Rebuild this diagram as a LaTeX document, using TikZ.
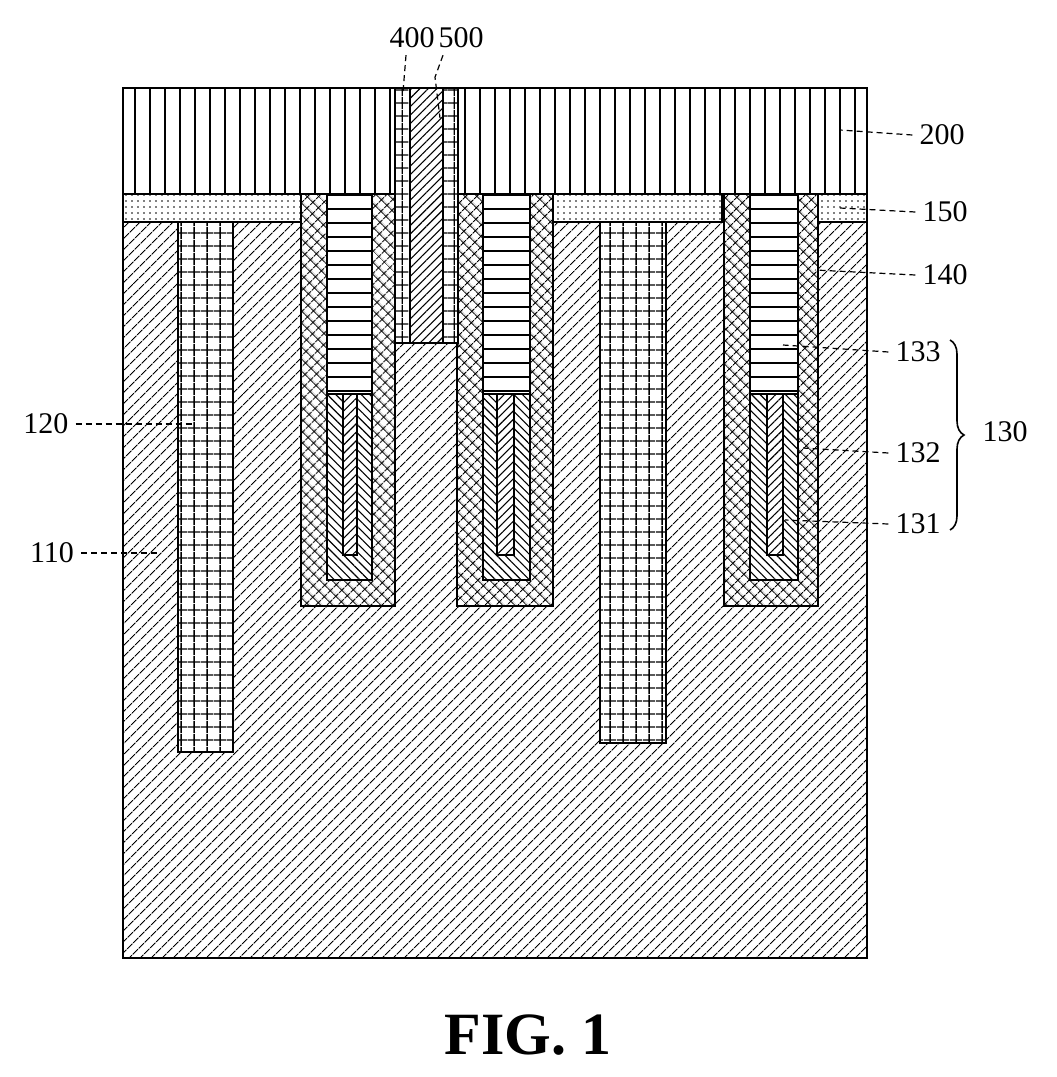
\documentclass[tikz,border=0pt]{standalone}
\usepackage{fontspec}
\setmainfont{Liberation Serif}
\usetikzlibrary{patterns.meta,decorations.pathreplacing}
\begin{document}
\begin{tikzpicture}[x=0.5pt,y=-0.5pt,
  ln/.style={line width=0.9pt,preaction={fill=white}},
  sub/.style={ln,pattern={Lines[angle=45,distance=4pt,line width=0.5pt]}},
  liner/.style={ln,pattern={Hatch[angle=45,distance=4pt,line width=0.55pt]}},
  grd/.style={ln,pattern={Hatch[angle=0,distance=6.5pt,line width=0.7pt]}},
  hl/.style={ln,pattern={Lines[angle=0,distance=7pt,line width=0.8pt]}},
  vl/.style={ln,pattern={Lines[angle=90,distance=7.5pt,line width=0.8pt]}},
  dt/.style={ln,pattern={Dots[distance=3pt,radius=0.45pt]}},
  nw/.style={ln,pattern={Lines[angle=-45,distance=3pt,line width=0.55pt]}},
  ne/.style={ln,pattern={Lines[angle=45,distance=3pt,line width=0.55pt]}},
  lead/.style={densely dashed,line width=0.6pt},
  lbl/.style={font=\fontsize{15}{15}\selectfont}]
\useasboundingbox (0,0) rectangle (1056,1077);
% substrate
\draw[sub] (123,222) rectangle (867,958);
% 150 layer
\draw[dt] (123,194) rectangle (301,222);
\draw[dt] (553,194) rectangle (722,222);
\draw[dt] (818,194) rectangle (867,222);
% 200 layer
\draw[vl] (123,88) rectangle (867,194);
% 120 trenches
\draw[grd] (178,222) rectangle (233,752);
\draw[grd] (600,222) rectangle (666,743);
% gate trenches
\foreach \a/\b/\c/\d/\e/\f in {301/395/327/372/343/357, 457/553/483/530/497/514, 724/818/750/798/767/783}{
  \draw[liner] (\a,194) rectangle (\b,606);
  \draw[hl] (\c,194) rectangle (\d,394);
  \draw[nw] (\c,394) rectangle (\d,580);
  \draw[ne] (\e,394) rectangle (\f,555);
}
% contact 400/500
\draw[grd] (395,88) rectangle (410,343);
\draw[grd] (443,88) rectangle (458,343);
\draw[ne] (410,88) rectangle (443,343);
% labels
\node[lbl] (l400) at (412,38) {400};
\node[lbl] (l500) at (461,38) {500};
\node[lbl] (l200) at (942,135) {200};
\node[lbl] (l150) at (945,212) {150};
\node[lbl] (l140) at (945,275) {140};
\node[lbl] (l133) at (918,352) {133};
\node[lbl] (l132) at (918,453) {132};
\node[lbl] (l131) at (918,524) {131};
\node[lbl] (l130) at (1005,432) {130};
\node[lbl] (l120) at (46,424) {120};
\node[lbl] (l110) at (52,553) {110};
\coordinate (t400) at (403,92);
\coordinate (t500) at (440,118);
\coordinate (t200) at (840,130);
\coordinate (t150) at (840,208);
\coordinate (t140) at (815,270);
\coordinate (t133) at (783,345);
\coordinate (t132) at (803,448);
\coordinate (t131) at (785,520);
\coordinate (t120) at (195,424);
\coordinate (t110) at (160,553);
\draw[lead] (l400.south) ++(-6,0) -- (t400);
\draw[lead] (l500.south) ++(-18,0) -- ++(-8,22) -- (t500);
\foreach \n in {200,150,140,133,132,131}{\draw[lead] (l\n.west) -- (t\n);}
\draw[lead] (l120.east) -- (t120);
\draw[lead] (l110.east) -- (t110);
\draw[line width=0.8pt,decorate,decoration={brace,amplitude=7pt}] (950,340) -- (950,530);
\node[font=\bfseries\fontsize{30}{30}\selectfont] (fig) at (528,1035) {FIG. 1};
\end{tikzpicture}
\end{document}
